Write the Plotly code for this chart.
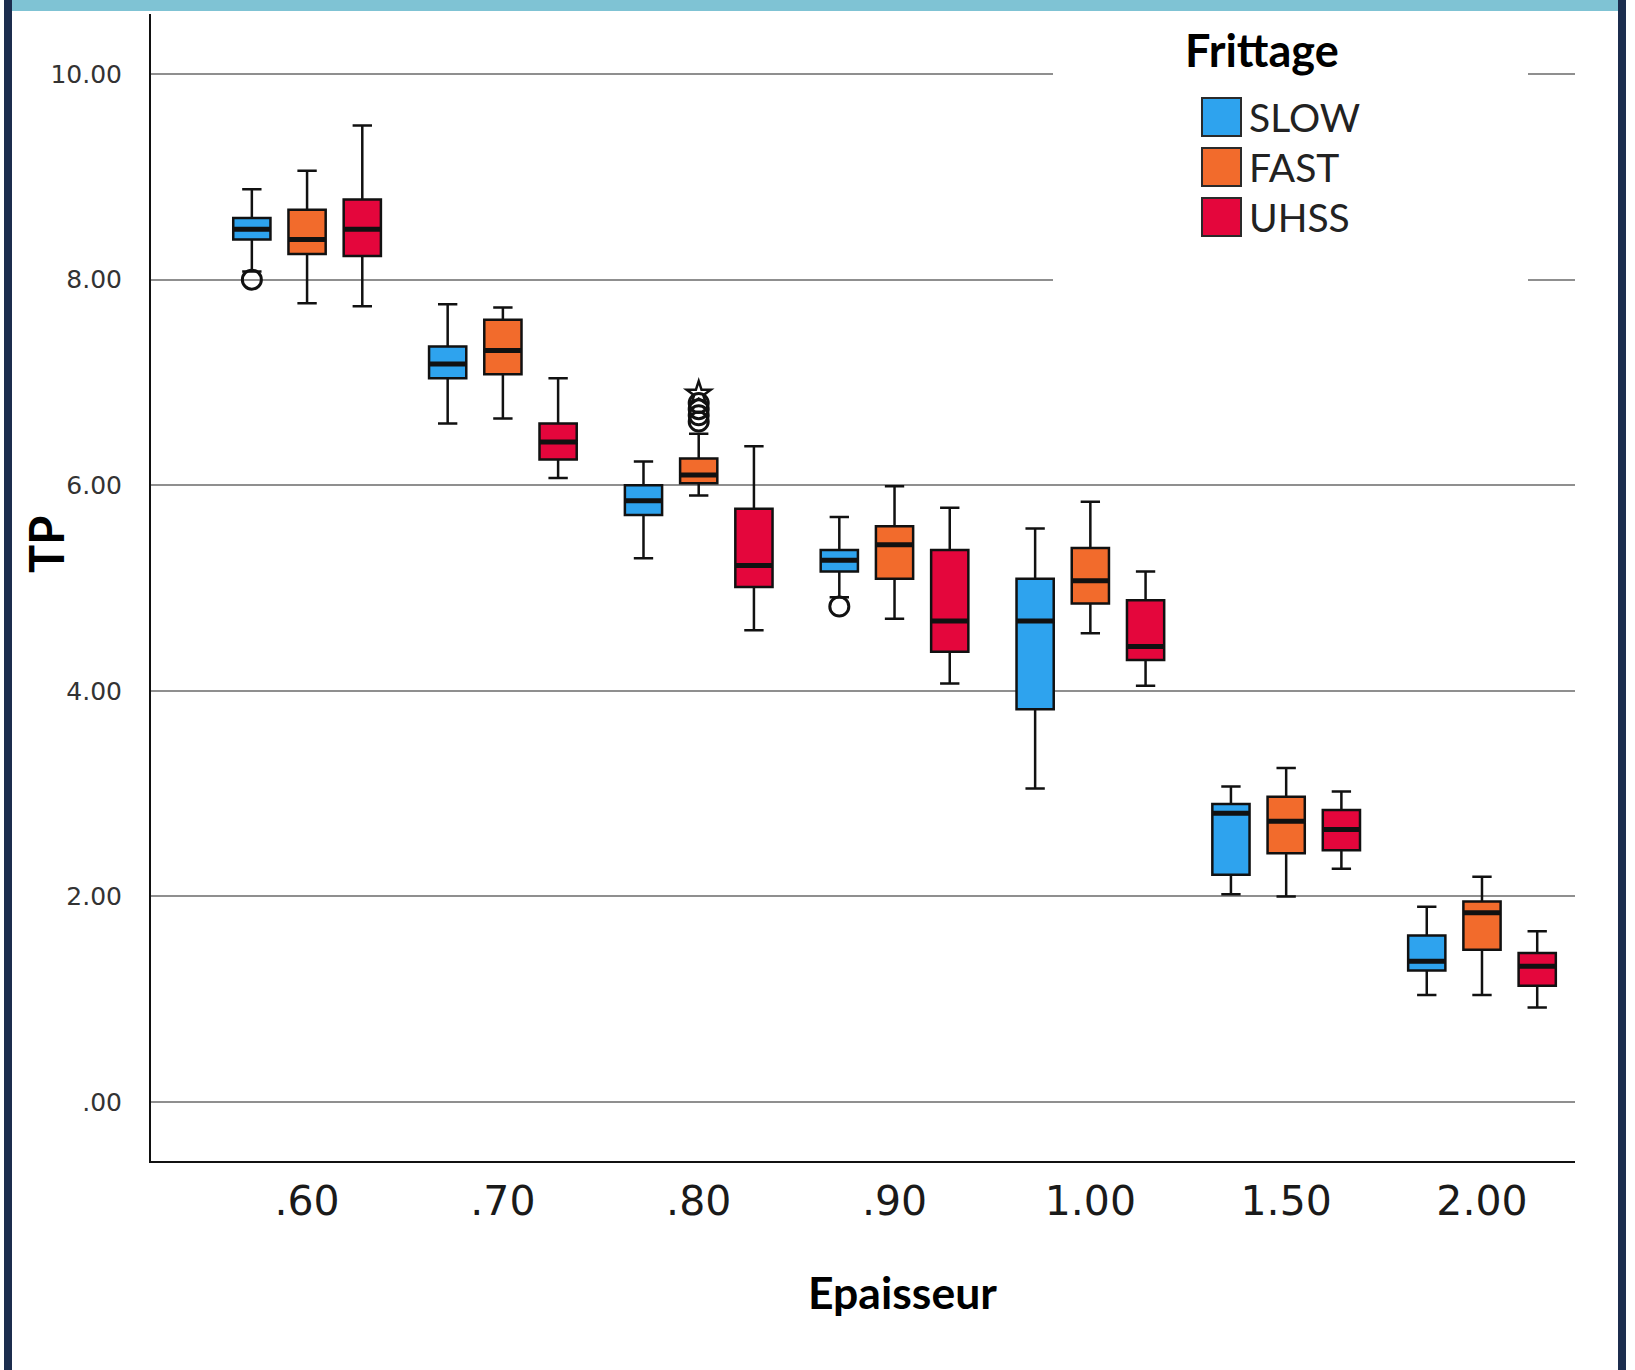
import plotly.graph_objects as go

# ---------------- data ----------------
categories = [".60", ".70", ".80", ".90", "1.00", "1.50", "2.00"]
series = ["SLOW", "FAST", "UHSS"]
colors = {"SLOW": "#2ea3ee", "FAST": "#f26b2c", "UHSS": "#e4063c"}

slow_upper = [8.88, 7.76, 6.23, 5.69, 5.58, 3.07, 1.90]
slow_q3    = [8.60, 7.35, 6.00, 5.37, 5.09, 2.90, 1.62]
slow_med   = [8.49, 7.18, 5.85, 5.27, 4.68, 2.81, 1.37]
slow_q1    = [8.39, 7.04, 5.71, 5.16, 3.82, 2.21, 1.28]
slow_lower = [8.08, 6.60, 5.29, 4.91, 3.05, 2.02, 1.04]

fast_upper = [9.06, 7.73, 6.50, 5.99, 5.84, 3.25, 2.19]
fast_q3    = [8.68, 7.61, 6.26, 5.60, 5.39, 2.97, 1.95]
fast_med   = [8.39, 7.31, 6.10, 5.42, 5.07, 2.73, 1.84]
fast_q1    = [8.25, 7.08, 6.02, 5.09, 4.85, 2.42, 1.48]
fast_lower = [7.77, 6.65, 5.90, 4.70, 4.56, 2.00, 1.04]

uhss_upper = [9.50, 7.04, 6.38, 5.78, 5.16, 3.02, 1.66]
uhss_q3    = [8.78, 6.60, 5.77, 5.37, 4.88, 2.84, 1.45]
uhss_med   = [8.49, 6.42, 5.22, 4.68, 4.43, 2.65, 1.32]
uhss_q1    = [8.23, 6.25, 5.01, 4.38, 4.30, 2.45, 1.13]
uhss_lower = [7.74, 6.07, 4.59, 4.07, 4.05, 2.27, 0.92]

# outliers (circles) and extreme values (stars)
slow_out_x = [".60", ".90"]
slow_out_y = [8.00, 4.82]
fast_out_x = [".80", ".80", ".80", ".80"]
fast_out_y = [6.62, 6.68, 6.74, 6.80]
fast_ext_x = [".80"]
fast_ext_y = [6.89]

y_tickvals = [0, 2, 4, 6, 8, 10]
y_ticktext = [".00", "2.00", "4.00", "6.00", "8.00", "10.00"]

x_title = "Epaisseur"
y_title = "TP"
legend_title = "Frittage"

# ---------------- layout helpers ----------------
L, T, W, H = 151, 14, 1424, 1147
def px(x):
    return (x - L) / W
def py(y):
    return 1 - (y - T) / H

stats = {
    "SLOW": (slow_lower, slow_q1, slow_med, slow_q3, slow_upper),
    "FAST": (fast_lower, fast_q1, fast_med, fast_q3, fast_upper),
    "UHSS": (uhss_lower, uhss_q1, uhss_med, uhss_q3, uhss_upper),
}

fig = go.Figure()
for s in series:
    lo, q1, med, q3, up = stats[s]
    fig.add_trace(go.Box(
        x=categories, q1=q1, median=med, q3=q3, lowerfence=lo, upperfence=up,
        name=s, offsetgroup=s, fillcolor=colors[s],
        line=dict(color="#111111", width=2.5), whiskerwidth=0.52,
        showlegend=False,
    ))

# thick median lines
for s in series:
    lo, q1, med, q3, up = stats[s]
    fig.add_trace(go.Box(
        x=categories, q1=med, median=med, q3=med, lowerfence=med, upperfence=med,
        name=s + " median", offsetgroup=s, fillcolor="rgba(0,0,0,0)",
        line=dict(color="#111111", width=5), whiskerwidth=0,
        showlegend=False, hoverinfo="skip",
    ))

def outlier_trace(xs, ys, group, symbol, size, lw):
    return go.Box(
        x=xs, y=ys, offsetgroup=group, boxpoints="all", jitter=0, pointpos=0,
        fillcolor="rgba(0,0,0,0)", line=dict(color="rgba(0,0,0,0)", width=0),
        marker=dict(symbol=symbol, size=size, color="#111111",
                    line=dict(width=lw, color="#111111")),
        showlegend=False, name=group + " outliers",
    )

fig.add_trace(outlier_trace(slow_out_x, slow_out_y, "SLOW", "circle-open", 19, 3))
fig.add_trace(outlier_trace(fast_out_x, fast_out_y, "FAST", "circle-open", 19, 3))
fig.add_trace(outlier_trace(fast_ext_x, fast_ext_y, "FAST", "star-open", 18, 2.5))

fig.update_layout(
    width=1635, height=1370,
    margin=dict(l=L, r=1635 - L - W, t=T, b=1370 - T - H, autoexpand=False),
    paper_bgcolor="white", plot_bgcolor="white",
    boxmode="group", boxgap=0.154, boxgroupgap=0.326,
    showlegend=False,
    xaxis=dict(
        type="category", categoryorder="array", categoryarray=categories,
        range=[-0.797, 6.475], showline=True, linecolor="#111111", linewidth=2,
        showgrid=False, zeroline=False, ticks="outside", ticklen=3,
        tickcolor="rgba(0,0,0,0)",
        tickfont=dict(family="DejaVu Sans", size=41, color="#1a1a1a"),
    ),
    yaxis=dict(
        range=[-0.574, 10.584], tickvals=y_tickvals, ticktext=y_ticktext,
        showline=True, linecolor="#111111", linewidth=2,
        showgrid=True, gridcolor="#8f8f8f", gridwidth=1.5, zeroline=False,
        ticks="outside", ticklen=22, tickcolor="rgba(0,0,0,0)",
        tickfont=dict(family="DejaVu Sans", size=25, color="#333333"),
    ),
)

shapes = []
# legend background (hides gridlines)
shapes.append(dict(type="rect", xref="paper", yref="paper",
                   x0=px(1053), x1=px(1528), y0=py(305), y1=py(11),
                   fillcolor="white", line=dict(width=0), layer="above"))
# legend swatches
sw_top = [98, 148, 198]
for s, t in zip(series, sw_top):
    shapes.append(dict(type="rect", xref="paper", yref="paper",
                       x0=px(1202), x1=px(1241), y0=py(t + 38), y1=py(t),
                       fillcolor=colors[s], line=dict(color="#2a2a2a", width=2),
                       layer="above"))
# frame decoration: top band and side borders
shapes.append(dict(type="rect", xref="paper", yref="paper",
                   x0=px(12), x1=px(1620), y0=py(11), y1=py(0),
                   fillcolor="#7fc3d4", line=dict(width=0), layer="above"))
shapes.append(dict(type="rect", xref="paper", yref="paper",
                   x0=px(4), x1=px(12), y0=py(1370), y1=py(0),
                   fillcolor="#1c2d4e", line=dict(width=0), layer="above"))
shapes.append(dict(type="rect", xref="paper", yref="paper",
                   x0=px(1618), x1=px(1626), y0=py(1370), y1=py(0),
                   fillcolor="#1c2d4e", line=dict(width=0), layer="above"))
fig.update_layout(shapes=shapes)

annotations = [
    dict(text="<b>" + y_title + "</b>", xref="paper", yref="paper",
         x=px(46), y=py(545), xanchor="center", yanchor="middle", textangle=-90,
         showarrow=False, font=dict(family="Lato", size=47, color="#000000")),
    dict(text="<b>" + x_title + "</b>", xref="paper", yref="paper",
         x=px(902), y=py(1291), xanchor="center", yanchor="middle",
         showarrow=False, font=dict(family="Lato", size=44.5, color="#000000")),
    dict(text="<b>" + legend_title + "</b>", xref="paper", yref="paper",
         x=px(1262), y=py(50), xanchor="center", yanchor="middle",
         showarrow=False, font=dict(family="Lato", size=45, color="#000000")),
]
for s, t in zip(series, sw_top):
    annotations.append(dict(text=s, xref="paper", yref="paper",
                            x=px(1247), y=py(t + 19), xanchor="left", yanchor="middle",
                            showarrow=False,
                            font=dict(family="Lato", size=39, color="#222222")))
fig.update_layout(annotations=annotations)

fig.write_html("out.html", config={"displayModeBar": False},
               post_script="document.body.style.margin='0px';")
